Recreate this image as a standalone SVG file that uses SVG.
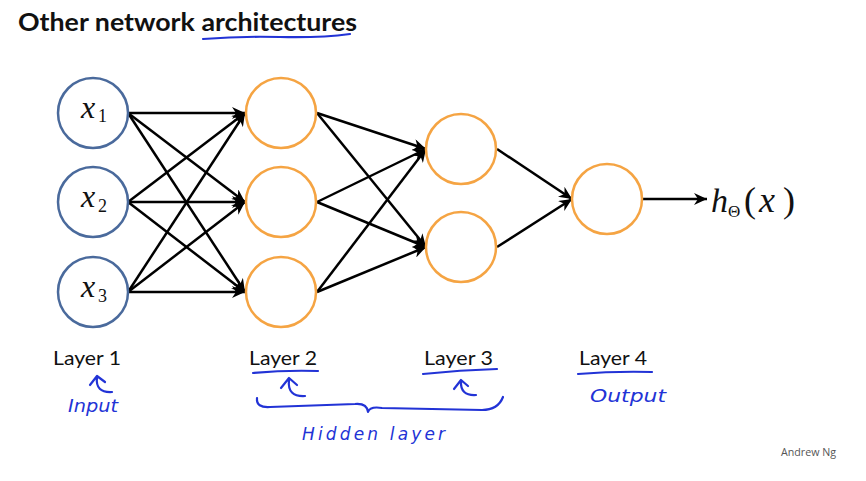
<svg xmlns="http://www.w3.org/2000/svg" width="866" height="481" viewBox="0 0 866 481">
<style>
.in{fill:#fff;stroke:#4a6a9c;stroke-width:2.5}
.hid{fill:#fff;stroke:#f5a443;stroke-width:2.5}
.edge{stroke:#000;stroke-width:2.5;fill:none;marker-end:url(#ah)}
.math{font-family:"Liberation Serif","DejaVu Serif",serif;font-style:italic;fill:#111}
.mathr{font-family:"Liberation Serif","DejaVu Serif",serif;fill:#111}
.lbl{font-family:Lato,"Open Sans",sans-serif;font-size:19px;fill:#111}
.ink{stroke:#2233d6;stroke-width:2.2;fill:none;stroke-linecap:round;stroke-linejoin:round}
.hand{font-family:"DejaVu Sans","Liberation Sans",sans-serif;font-size:17px;fill:#2233d6;font-style:italic}
</style>
<defs>
<marker id="ah" markerUnits="userSpaceOnUse" markerWidth="14" markerHeight="12" refX="13" refY="6" orient="auto">
<path d="M0,0 L13,6 L0,12 L4,6 z" fill="#000"/>
</marker>
</defs>
<rect width="866" height="481" fill="#fff"/>
<g id="title">
<text x="18" y="31" font-family="Lato,'Open Sans',sans-serif" font-weight="bold" font-size="25" textLength="339" lengthAdjust="spacingAndGlyphs" fill="#111">Other network architectures</text>
<path class="ink" d="M203,39 Q240,36 280,37 T350,34"/>
</g>
<g id="connectors">
<line class="edge" x1="128" y1="113" x2="245" y2="113"/>
<line class="edge" x1="128" y1="113" x2="245" y2="202"/>
<line class="edge" x1="128" y1="113" x2="245" y2="292"/>
<line class="edge" x1="128" y1="202" x2="245" y2="113"/>
<line class="edge" x1="128" y1="202" x2="245" y2="202"/>
<line class="edge" x1="128" y1="202" x2="245" y2="292"/>
<line class="edge" x1="128" y1="292" x2="245" y2="113"/>
<line class="edge" x1="128" y1="292" x2="245" y2="202"/>
<line class="edge" x1="128" y1="292" x2="245" y2="292"/>
<line class="edge" x1="317" y1="113" x2="426" y2="149"/>
<line class="edge" x1="317" y1="113" x2="426" y2="247"/>
<line class="edge" x1="317" y1="202" x2="426" y2="149"/>
<line class="edge" x1="317" y1="202" x2="426" y2="247"/>
<line class="edge" x1="317" y1="292" x2="426" y2="149"/>
<line class="edge" x1="317" y1="292" x2="426" y2="247"/>
<line class="edge" x1="497" y1="149" x2="572" y2="199"/>
<line class="edge" x1="497" y1="247" x2="572" y2="199"/>
<line class="edge" x1="643" y1="199" x2="707" y2="199"/>
</g>
<g id="x1"><circle class="in" cx="93" cy="113" r="35"/><text class="math" x="81" y="118" font-size="32">x</text><text class="mathr" x="98" y="122" font-size="18">1</text></g>
<g id="x2"><circle class="in" cx="93" cy="202" r="35"/><text class="math" x="81" y="207" font-size="32">x</text><text class="mathr" x="98" y="212" font-size="18">2</text></g>
<g id="x3"><circle class="in" cx="93" cy="292" r="35"/><text class="math" x="81" y="297" font-size="32">x</text><text class="mathr" x="98" y="302" font-size="18">3</text></g>
<g id="a21"><circle class="hid" cx="281" cy="113" r="35"/></g>
<g id="a22"><circle class="hid" cx="281" cy="202" r="35"/></g>
<g id="a23"><circle class="hid" cx="281" cy="292" r="35"/></g>
<g id="a31"><circle class="hid" cx="461" cy="149" r="35"/></g>
<g id="a32"><circle class="hid" cx="461" cy="247" r="35"/></g>
<g id="a41"><circle class="hid" cx="607" cy="199" r="35"/></g>
<g id="output">
<text class="math" x="711" y="212" font-size="34">h</text>
<text class="mathr" x="728" y="217" font-size="17">Θ</text>
<text class="mathr" y="212" font-size="36"><tspan x="744">(</tspan><tspan x="759" font-style="italic">x</tspan><tspan x="783">)</tspan></text>
</g>
<g id="labels">
<text class="lbl" x="53" y="365" textLength="68" lengthAdjust="spacingAndGlyphs">Layer 1</text>
<text class="lbl" x="249" y="365" textLength="68" lengthAdjust="spacingAndGlyphs">Layer 2</text>
<text class="lbl" x="424" y="365" textLength="69" lengthAdjust="spacingAndGlyphs">Layer 3</text>
<text class="lbl" x="579" y="365" textLength="68" lengthAdjust="spacingAndGlyphs">Layer 4</text>
</g>
<g id="annotations">
<path class="ink" d="M253,373 Q285,370 318,371"/>
<path class="ink" d="M423,374 Q460,370 497,369"/>
<path class="ink" d="M578,374 Q615,371 652,372"/>
<path class="ink" d="M90,385 L97,376 L105,382 M97,377 Q95,393 112,392"/>
<path class="ink" d="M281,388 L289,378 L297,385 M289,380 Q287,397 305,396"/>
<path class="ink" d="M454,389 L461,380 L468,386 M461,381 Q460,396 476,395"/>
<path class="ink" d="M257,398 Q256,408 270,407 L355,404 Q367,403 368,412 Q370,406 382,408 L482,410 Q498,410 503,397"/>
<text class="hand" x="68" y="412" textLength="50" lengthAdjust="spacingAndGlyphs">Input</text>
<text class="hand" x="302" y="440" textLength="143" lengthAdjust="spacing">Hidden  layer</text>
<text class="hand" x="590" y="402" textLength="76" lengthAdjust="spacingAndGlyphs">Output</text>
</g>
<text x="781" y="456" font-family="'Open Sans','Liberation Sans',sans-serif" font-size="10.5" fill="#555" textLength="55" lengthAdjust="spacingAndGlyphs">Andrew Ng</text>
</svg>
